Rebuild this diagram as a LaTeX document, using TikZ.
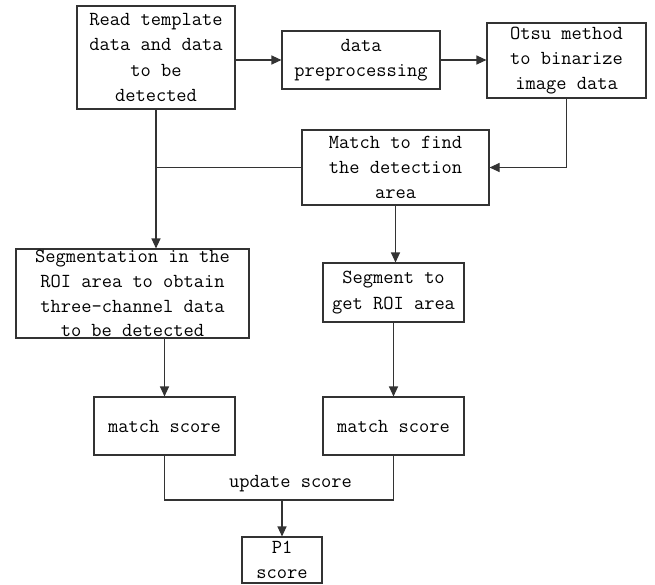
\documentclass[tikz,border=0pt]{standalone}
\usetikzlibrary{arrows.meta}
\begin{document}
\begin{tikzpicture}[x=1pt,y=-1pt,
  txt/.style={inner sep=0pt, align=center, text=black,
    font=\ttfamily\fontsize{19.9}{25.4}\selectfont},
  box/.style={txt, draw=black!80, line width=1.1pt, rectangle},
  conn/.style={draw=black!80, line width=1.1pt},
  arr/.style={conn, -{Triangle[length=10pt,width=9pt]}}]
\useasboundingbox (0,0) rectangle (655,584);
\fill[white] (0,0) rectangle (655,584);

\node[box, minimum width=158pt, minimum height=103pt] (read) at (156,57.5)
  {Read template\\data and data\\to be\\detected};
\node[box, minimum width=158pt, minimum height=58pt] (prep) at (361,60)
  {data\\preprocessing};
\node[box, minimum width=159pt, minimum height=75pt] (otsu) at (566.5,60.5)
  {Otsu method\\to binarize\\image data};
\node[box, minimum width=187pt, minimum height=75pt] (match) at (395.5,167.5)
  {Match to find\\the detection\\area};
\node[box, minimum width=233pt, minimum height=89pt] (seg) at (132.5,293.5) {};
\node[txt, font=\ttfamily\fontsize{19.9}{24.8}\selectfont] (segtext) at (132.5,293.5)
  {Segmentation in the\\ROI area to obtain\\three-channel data\\to be detected};
\node[box, minimum width=141pt, minimum height=59pt] (roi) at (393.5,292.5)
  {Segment to\\get ROI area};
\node[box, minimum width=141pt, minimum height=58pt] (ms1) at (164.5,426)
  {match score};
\node[box, minimum width=141pt, minimum height=58pt] (ms2) at (393.5,426)
  {match score};
\node[box, minimum width=80pt, minimum height=46pt] (p1) at (282,560)
  {P1\\score};
\node[txt] (upd) at (290.5,484) {update score};
\coordinate (join) at (282,500);

\draw[arr] (read.east |- prep.west) -- (prep.west);
\draw[arr] (prep.east) -- (otsu.west |- prep.east);
\draw[arr] (otsu.south) |- (match.east);
\draw[arr] (read.south) -- (read.south |- seg.north);
\draw[conn] (match.west) -- (match.west -| read.south);
\draw[arr] (match.south) -- (match.south |- roi.north);
\draw[arr] (seg.south -| ms1.north) -- (ms1.north);
\draw[arr] (roi.south) -- (ms2.north);
\draw[conn] (ms1.south) |- (join) -| (ms2.south);
\draw[arr] (join) -- (p1.north);
\end{tikzpicture}
\end{document}
